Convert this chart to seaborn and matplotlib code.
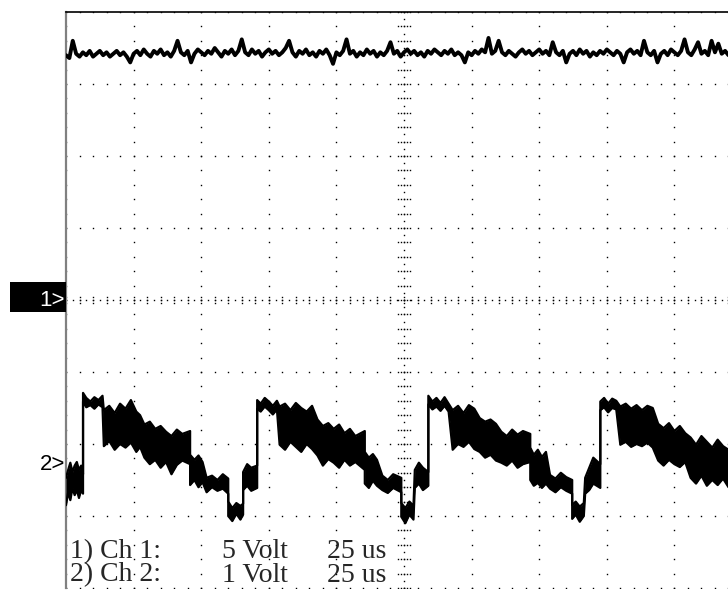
"""
Scope capture: Ch 1 (5 V/div) and Ch 2 (1 V/div), 25 us/div.
Redrawn as a dotted-graticule screen with seaborn/matplotlib.
"""

import numpy as np
import pandas as pd
import matplotlib
matplotlib.use("Agg")
import matplotlib.pyplot as plt
import matplotlib.transforms as mtransforms
from matplotlib.patches import Rectangle
import seaborn as sns

# ---------------------------------------------------------------------------
# SCOPE SETTINGS
# ---------------------------------------------------------------------------
US_PER_DIV = 25
CH1_VOLTS_PER_DIV = 5
CH2_VOLTS_PER_DIV = 1
CH1_OFFSET_DIV = 0.0     # "1>" marker
CH2_OFFSET_DIV = -2.29   # "2>" marker

# ---------------------------------------------------------------------------
# DATA
# ---------------------------------------------------------------------------
ch1_dt_us = 1.25
ch1_volts = [
    17.0, 16.8, 18.0, 17.1, 16.9, 17.2, 17.0, 17.3, 16.9, 17.1, 17.3, 17.0, 17.2, 16.9, 17.1, 17.3, 17.0, 17.2, 16.9, 16.5,
    17.1, 17.3, 17.0, 17.4, 17.1, 16.9, 17.3, 17.1, 17.4, 17.0, 17.2, 16.9, 17.3, 18.0, 17.2, 17.0, 17.3, 16.5, 17.1, 17.4,
    17.2, 17.0, 17.3, 17.1, 17.5, 17.2, 16.9, 17.3, 17.1, 17.4, 17.0, 17.3, 18.1, 17.2, 17.0, 17.4, 17.1, 17.3, 16.9, 17.2,
    17.4, 17.1, 17.3, 17.0, 17.2, 17.5, 18.0, 17.2, 16.9, 17.3, 17.1, 17.4, 17.0, 17.2, 16.9, 17.3, 17.1, 17.4, 17.0, 16.4,
    17.2, 17.0, 17.3, 18.1, 17.1, 17.3, 16.9, 17.2, 17.0, 17.4, 17.1, 17.3, 16.9, 17.2, 17.0, 17.3, 17.9, 17.1, 17.3, 16.9,
    17.2, 17.4, 17.1, 17.3, 17.0, 17.2, 16.9, 17.3, 17.1, 17.4, 17.2, 17.0, 17.3, 17.1, 17.4, 17.0, 17.2, 17.0, 16.5, 17.2,
    17.0, 17.3, 17.1, 17.4, 17.2, 18.2, 17.1, 17.3, 18.0, 17.2, 17.0, 17.3, 17.1, 16.9, 17.2, 17.4, 17.1, 17.3, 17.0, 17.2,
    17.4, 17.1, 17.3, 17.0, 17.9, 17.2, 17.0, 17.3, 16.5, 17.1, 17.3, 17.0, 17.4, 17.1, 17.3, 16.9, 17.2, 17.0, 17.3, 17.1,
    17.4, 17.2, 17.0, 17.3, 17.1, 16.5, 17.2, 17.4, 17.1, 17.3, 17.0, 18.0, 17.2, 17.0, 17.3, 16.5, 17.1, 17.3, 17.0, 17.4,
    17.2, 17.0, 17.3, 18.1, 17.2, 17.0, 17.4, 17.9, 17.1, 17.3, 17.0, 18.0, 17.2, 17.8, 17.1, 17.3, 17.0, 17.4, 17.2, 17.1,
]

# Ch 2 is drawn as a noise band: upper / lower envelope per sample time
ch2_time_us = [
    0, 0.8, 1.6, 2.4, 3.2, 4.0, 4.8, 5.6, 6.3,
    6.3, 7.5, 9, 10.5, 12, 13.5,
    14, 16, 18, 20, 22, 24, 26, 27.4,
    29, 31, 33, 35,
    37, 39, 41, 43, 45.9,
    45.9, 47.5, 49, 50.5,
    52, 54, 56, 58, 60,
    60, 61.5, 63, 64.5, 65.5,
    65.5, 67, 68.5, 70.7,
    70.7, 72, 73.5, 75, 76.5, 78,
    79, 81, 83, 85, 87, 89, 91,
    93, 95, 97, 99, 101,
    103, 105, 107, 110.5,
    110.5, 112, 113.5, 115,
    117, 119, 121, 124,
    124, 125.5, 127, 128.5,
    129, 130.5, 132, 134,
    134, 135.5, 137, 138.5, 140, 141.5,
    143, 145, 147, 149, 151,
    153, 155, 157, 159,
    161, 163, 165, 167, 169, 171.7,
    171.7, 173, 174.5, 176, 177.5,
    179, 181, 183, 185, 187.2,
    187.2, 188.5, 190, 191.5,
    192, 193.5, 195, 197.6,
    197.6, 199, 200.5, 202, 203.5,
    205, 207, 209, 211, 213, 215, 217,
    219, 221, 223, 225, 227, 229,
    231, 233, 235, 237, 239, 241, 243, 245, 247,
]
ch2_hi_volts = [
    -0.18, -0.07, 0.03, -0.10, -0.01, 0.04, -0.07, -0.01, -0.13,
    1.00, 0.93, 0.88, 0.94, 0.90, 0.96,
    0.76, 0.82, 0.72, 0.85, 0.78, 0.90, 0.74, 0.69,
    0.56, 0.60, 0.50, 0.54,
    0.46, 0.40, 0.49, 0.43, 0.47,
    0.14, 0.07, 0.13, 0.04,
    -0.18, -0.15, -0.21, -0.13, -0.19,
    -0.51, -0.60, -0.53, -0.57, -0.54,
    -0.10, 0.01, -0.04, -0.01,
    0.90, 0.85, 0.93, 0.88, 0.82, 0.89,
    0.81, 0.85, 0.76, 0.86, 0.79, 0.74, 0.82,
    0.63, 0.54, 0.58, 0.50, 0.56,
    0.44, 0.50, 0.40, 0.47,
    0.18, 0.10, 0.15, 0.07,
    -0.15, -0.21, -0.13, -0.18,
    -0.53, -0.60, -0.51, -0.57,
    -0.07, 0.03, -0.04, -0.10,
    0.96, 0.88, 0.93, 0.86, 0.94, 0.85,
    0.76, 0.82, 0.72, 0.83, 0.78,
    0.65, 0.60, 0.63, 0.57,
    0.46, 0.40, 0.49, 0.42, 0.47, 0.43,
    0.24, 0.14, 0.21, 0.11, 0.18,
    -0.14, -0.19, -0.11, -0.17, -0.21,
    -0.56, -0.51, -0.58, -0.53,
    -0.18, -0.04, 0.10, 0.01,
    0.88, 0.93, 0.85, 0.92, 0.89,
    0.81, 0.85, 0.78, 0.83, 0.76, 0.82, 0.79,
    0.57, 0.51, 0.58, 0.47, 0.54, 0.44,
    0.38, 0.28, 0.40, 0.32, 0.24, 0.35, 0.26, 0.21, 0.30,
]
ch2_lo_volts = [
    -0.56, -0.38, -0.49, -0.32, -0.42, -0.35, -0.46, -0.35, -0.40,
    0.88, 0.80, 0.83, 0.78, 0.84, 0.80,
    0.26, 0.33, 0.21, 0.29, 0.24, 0.31, 0.18, 0.25,
    0.10, 0.01, 0.07, -0.04,
    0.04, -0.13, 0.00, 0.06, 0.01,
    -0.28, -0.21, -0.31, -0.24,
    -0.38, -0.31, -0.36, -0.33, -0.40,
    -0.71, -0.78, -0.68, -0.76, -0.69,
    -0.35, -0.29, -0.36, -0.32,
    0.78, 0.74, 0.81, 0.76, 0.70, 0.77,
    0.28, 0.21, 0.32, 0.25, 0.18, 0.29, 0.22,
    0.13, -0.01, 0.08, 0.03, -0.04,
    0.07, -0.01, 0.04, -0.07,
    -0.26, -0.32, -0.22, -0.29,
    -0.35, -0.39, -0.32, -0.38,
    -0.72, -0.81, -0.69, -0.76,
    -0.32, -0.26, -0.35, -0.29,
    0.84, 0.77, 0.81, 0.75, 0.82, 0.74,
    0.21, 0.29, 0.25, 0.32, 0.22,
    0.18, 0.10, 0.14, 0.06,
    0.03, -0.01, 0.06, -0.04, 0.01, 0.04,
    -0.21, -0.29, -0.25, -0.32, -0.26,
    -0.33, -0.38, -0.31, -0.36, -0.40,
    -0.75, -0.69, -0.79, -0.71,
    -0.40, -0.35, -0.26, -0.32,
    0.76, 0.80, 0.73, 0.79, 0.77,
    0.28, 0.32, 0.25, 0.29, 0.26, 0.31, 0.24,
    0.06, -0.01, 0.07, 0.01, -0.03, 0.04,
    -0.18, -0.26, -0.15, -0.29, -0.21, -0.28, -0.19, -0.31, -0.22,
]

info_labels = ["1) Ch 1:", "2) Ch 2:"]
info_volts = ["5 Volt", "1 Volt"]
info_time = ["25 us", "25 us"]

# ---------------------------------------------------------------------------
# FIGURE
# ---------------------------------------------------------------------------
sns.set_style("white")
plt.rcParams["font.family"] = ["Liberation Sans", "DejaVu Sans"]

W, H = 728, 592
fig = plt.figure(figsize=(W / 100, H / 100), dpi=100)
# screen: left edge at x=66px, top at y=12px, 72px per vertical div
ax = fig.add_axes([66 / W, 4 / H, 676 / W, 576 / H])
ax.set_xlim(0, 10 * US_PER_DIV)
ax.set_ylim(-4, 4)
ax.set_xticks([])
ax.set_yticks([])
ax.spines["top"].set_color("black")
ax.spines["top"].set_linewidth(1.2)
ax.spines["left"].set_color("#808080")
ax.spines["left"].set_linewidth(1.6)
ax.spines["right"].set_visible(False)
ax.spines["bottom"].set_visible(False)

# dotted graticule
dot = dict(ls="none", marker="s", ms=1.0, mew=0, color="black", zorder=1)
minor_x = np.arange(0, 10 * US_PER_DIV + 0.1, US_PER_DIV / 5)
minor_y = np.arange(-4, 4.01, 0.2)
for gy in range(-4, 5):
    ax.plot(minor_x, np.full_like(minor_x, gy), **dot)
for gx in np.arange(0, 10 * US_PER_DIV + 0.1, US_PER_DIV):
    ax.plot(np.full_like(minor_y, gx), minor_y, **dot)

# centre cross with finer ticks
cx = 5 * US_PER_DIV
fine_x = np.arange(0, 10 * US_PER_DIV + 0.1, US_PER_DIV / 10)
ax.plot(fine_x, np.zeros_like(fine_x), **dot)
for dy in (-0.042, 0.042):
    ax.plot(minor_x, np.full_like(minor_x, dy), **dot)
fine_y = np.arange(-4, 4.01, 0.1)
ax.plot(np.full_like(fine_y, cx), fine_y, **dot)
for dx in (-2.4, -1.2, 1.2, 2.4):
    ax.plot(np.full_like(minor_y, cx + dx), minor_y, **dot)

# Ch 1 trace
ch1 = pd.DataFrame({
    "t": np.arange(len(ch1_volts)) * ch1_dt_us,
    "div": np.array(ch1_volts) / CH1_VOLTS_PER_DIV + CH1_OFFSET_DIV,
})
sns.lineplot(data=ch1, x="t", y="div", ax=ax, color="black", lw=2.8,
             estimator=None, sort=False, zorder=3)

# Ch 2 trace (noise band)
ch2 = pd.DataFrame({
    "t": ch2_time_us,
    "hi": np.array(ch2_hi_volts) / CH2_VOLTS_PER_DIV + CH2_OFFSET_DIV,
    "lo": np.array(ch2_lo_volts) / CH2_VOLTS_PER_DIV + CH2_OFFSET_DIV,
})
ax.fill_between(ch2["t"], ch2["lo"], ch2["hi"], color="black", lw=0, zorder=3)
for col in ("hi", "lo"):
    sns.lineplot(data=ch2, x="t", y=col, ax=ax, color="black", lw=1.6,
                 estimator=None, sort=False, zorder=3)
ax.set_xlabel("")
ax.set_ylabel("")

# channel markers on the left
mark = mtransforms.blended_transform_factory(fig.transFigure, ax.transData)
box = Rectangle((10 / W, (H - 312) / H), 56 / W, 30 / H,
                transform=fig.transFigure, facecolor="black",
                edgecolor="none", zorder=2)
fig.patches.append(box)
fig.text(65 / W, CH1_OFFSET_DIV, "1>", transform=mark, ha="right", va="center",
         color="white", fontsize=16, zorder=5)
fig.text(65 / W, CH2_OFFSET_DIV, "2>", transform=mark, ha="right", va="center",
         color="black", fontsize=16, zorder=5)

# settings read-out
serif = ["Liberation Serif", "DejaVu Serif"]
for i, (lab, volt, tb) in enumerate(zip(info_labels, info_volts, info_time)):
    yb = 1 - (558 + 23.5 * i) / H
    fig.text(70 / W, yb, lab, family=serif, fontsize=20, va="baseline")
    fig.text(222 / W, yb, volt, family=serif, fontsize=20, va="baseline")
    fig.text(327 / W, yb, tb, family=serif, fontsize=20, va="baseline")

fig.savefig("out.png", dpi=100, facecolor="white")
